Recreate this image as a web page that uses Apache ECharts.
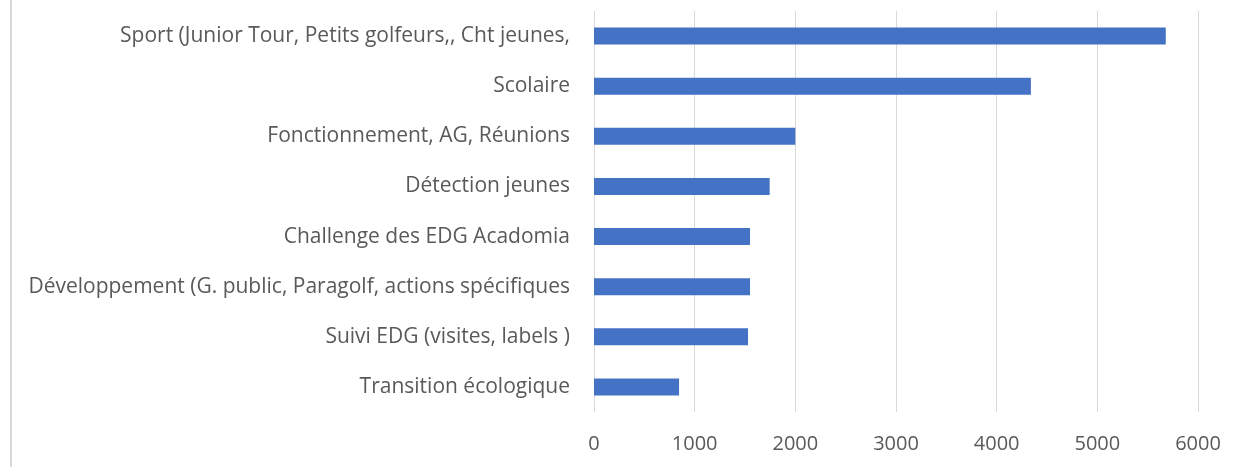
<!DOCTYPE html>
<html>
<head>
<meta charset="utf-8">
<script src="https://cdn.jsdelivr.net/npm/echarts@6/dist/echarts.min.js"></script>
<style>
  html, body { margin: 0; padding: 0; background: #fff; }
  .frame {
    position: relative;
    width: 1233px;
    height: 467px;
  }
  .frame .edge {
    position: absolute;
    left: 10px;
    top: 0;
    width: 2px;
    height: 467px;
    background: #d9d9d9;
  }
  #chart { width: 1233px; height: 467px; }
</style>
</head>
<body>
<div class="frame">
  <div class="edge"></div>
  <div id="chart"></div>
</div>
<script>
const categories = [
  'Sport (Junior Tour, Petits golfeurs,, Cht jeunes,',
  'Scolaire',
  'Fonctionnement, AG, Réunions',
  'Détection jeunes',
  'Challenge des EDG Acadomia',
  'Développement (G. public, Paragolf, actions spécifiques',
  'Suivi EDG (visites, labels )',
  'Transition écologique'
]
const amounts = [5680, 4340, 2000, 1745, 1550, 1550, 1530, 845]
const axisMin = 0
const axisMax = 6000
const axisStep = 1000

const chart = echarts.init(document.getElementById('chart'))

chart.setOption({
  animation: false,
  textStyle: {
    fontFamily: 'Open Sans',
  },
  grid: {
    left: 594,
    right: 35,
    top: 11,
    bottom: 55,
  },
  xAxis: {
    type: 'value',
    min: axisMin,
    max: axisMax,
    interval: axisStep,
    axisLine: { show: false },
    axisTick: { show: false },
    axisLabel: {
      color: '#595959',
      fontSize: 20,
      margin: 22,
      formatter: (v) => String(v),
    },
    splitLine: {
      lineStyle: { color: '#d9d9d9', width: 1 },
    },
  },
  yAxis: {
    type: 'category',
    data: categories,
    inverse: true,
    axisLine: { show: false },
    axisTick: { show: false },
    axisLabel: {
      color: '#595959',
      fontSize: 21,
      margin: 24,
    },
  },
  series: [
    {
      type: 'bar',
      data: amounts,
      barWidth: 17,
      itemStyle: {
        color: '#4472c4',
      },
    },
  ],
})
</script>
</body>
</html>
